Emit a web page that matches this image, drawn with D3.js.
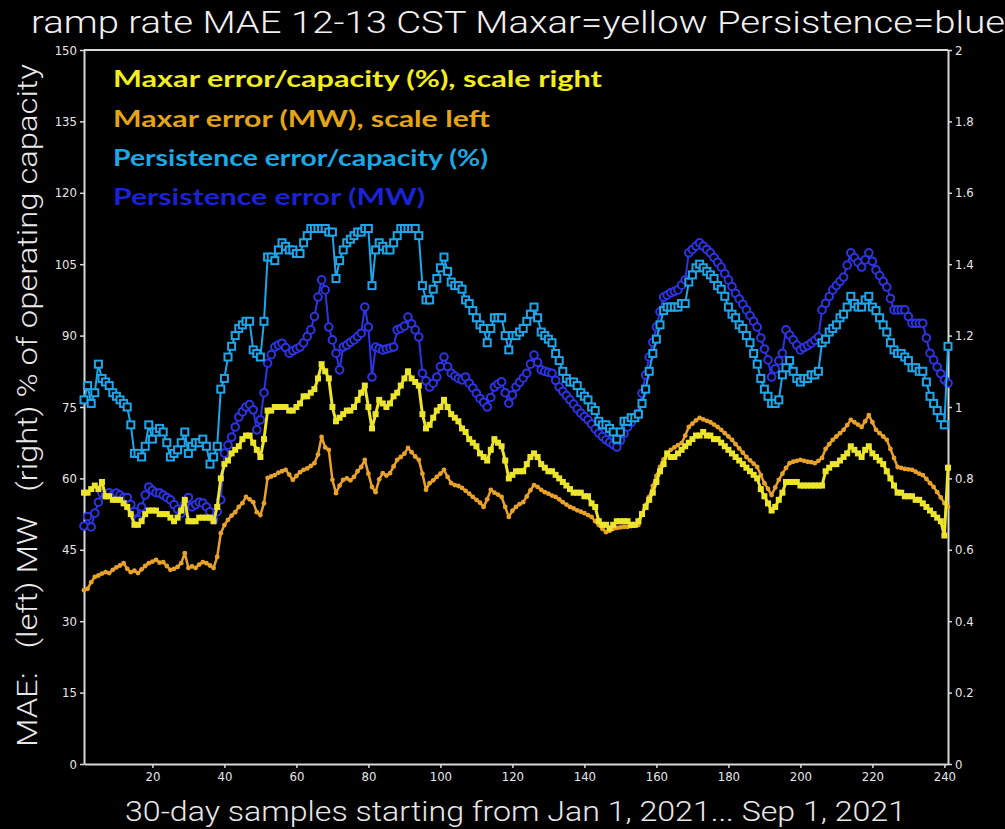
<!DOCTYPE html>
<html><head><meta charset="utf-8">
<script src="https://cdn.jsdelivr.net/npm/d3@7"></script>
<style>html,body{margin:0;padding:0;background:#000;}svg{display:block;}</style>
</head><body>
<svg id="chart" width="1005" height="829"></svg>
<script>
const titleText = "ramp rate MAE 12-13 CST Maxar=yellow Persistence=blue";
const yLabelText = "MAE:   (left) MW   (right) % of operating capacity";
const xLabelText = "30-day samples starting from Jan 1, 2021... Sep 1, 2021";
const legendLabels = ["Maxar error/capacity (%), scale right","Maxar error (MW), scale left","Persistence error/capacity (%)","Persistence error (MW)"];
const xTicks = [20,40,60,80,100,120,140,160,180,200,220,240];
const leftTicks = [0,15,30,45,60,75,90,105,120,135,150];
const rightTicks = [0,0.2,0.4,0.6,0.8,1,1.2,1.4,1.6,1.8,2];

const maxarMW = [
36.5,36.8,38.2,39.3,39.6,40.0,40.3,40.1,40.8,41.3,
41.7,42.2,41.0,40.3,40.6,40.1,40.9,41.6,42.2,42.5,
42.9,42.3,42.4,41.6,40.8,41.0,41.4,42.2,44.3,41.2,
41.5,41.2,41.9,42.4,42.2,41.7,41.2,43.5,48.5,50.2,
51.3,52.2,52.9,54.0,54.8,56.1,55.6,55.0,52.9,52.3,
54.8,60.1,60.4,60.7,61.2,61.5,61.8,60.8,59.7,60.5,
61.3,61.8,62.1,62.6,63.2,65.0,68.7,66.5,66.0,59.7,
56.9,58.5,59.7,60.0,59.6,60.3,61.5,62.4,63.9,61.0,
58.2,57.1,59.8,61.1,60.6,61.1,62.5,63.9,64.5,65.2,
66.4,65.5,64.6,63.9,61.0,57.6,59.0,59.6,60.3,61.0,
61.8,60.3,59.0,58.6,58.4,58.0,57.4,56.8,56.1,55.5,
54.9,54.0,55.6,57.6,57.0,56.6,56.1,54.0,51.9,53.2,
54.0,54.6,55.0,56.2,57.5,58.6,58.2,57.6,57.1,56.8,
56.4,56.1,55.6,55.0,54.5,54.0,53.7,53.3,53.0,52.7,
52.3,51.9,51.0,50.2,49.4,48.7,49.0,49.4,49.6,49.7,
49.8,49.8,50.0,50.1,50.2,52.7,54.4,56.1,58.4,60.5,
62.4,64.0,65.3,66.0,66.5,67.0,67.4,69.0,70.8,71.5,
72.2,72.7,72.4,72.1,71.8,71.3,70.8,70.2,69.5,68.8,
68.1,67.2,66.3,65.4,64.5,63.8,63.1,62.4,60.7,59.0,
57.8,56.5,58.1,59.7,61.0,62.2,63.2,63.5,63.7,63.9,
63.7,63.5,63.4,63.2,63.7,64.3,66.2,67.2,68.1,68.8,
69.5,70.2,71.2,72.3,71.8,71.3,70.8,72.0,73.3,71.8,
70.2,69.5,68.8,68.1,66.2,64.3,62.4,62.2,62.0,61.9,
61.8,61.4,61.0,60.7,59.9,59.0,58.2,57.1,56.0,54.8,54.0];

const maxarPct = [
0.76,0.76,0.77,0.78,0.77,0.79,0.75,0.75,0.74,0.74,
0.74,0.73,0.72,0.70,0.67,0.67,0.68,0.70,0.71,0.71,
0.71,0.70,0.70,0.70,0.69,0.68,0.69,0.71,0.74,0.68,
0.68,0.68,0.69,0.69,0.69,0.69,0.68,0.72,0.80,0.84,
0.85,0.87,0.88,0.89,0.91,0.92,0.92,0.90,0.88,0.86,
0.91,0.99,0.99,1.00,1.00,1.00,1.00,0.99,0.99,1.00,
1.01,1.03,1.03,1.04,1.05,1.08,1.12,1.10,1.08,1.00,
0.96,0.97,0.98,0.99,0.99,1.00,1.02,1.04,1.06,1.00,
0.94,0.98,1.02,1.01,1.00,1.01,1.03,1.04,1.06,1.08,
1.10,1.08,1.07,1.06,0.98,0.94,0.95,0.97,0.99,1.00,
1.02,1.00,0.98,0.97,0.96,0.94,0.93,0.91,0.90,0.89,
0.87,0.86,0.85,0.88,0.91,0.90,0.89,0.85,0.80,0.81,
0.82,0.82,0.82,0.84,0.86,0.87,0.86,0.84,0.83,0.82,
0.82,0.81,0.80,0.79,0.78,0.77,0.76,0.76,0.76,0.75,
0.75,0.73,0.72,0.68,0.67,0.67,0.66,0.67,0.68,0.68,
0.68,0.68,0.67,0.67,0.68,0.70,0.72,0.74,0.76,0.79,
0.82,0.84,0.87,0.86,0.86,0.87,0.88,0.89,0.90,0.91,
0.92,0.92,0.93,0.92,0.92,0.91,0.91,0.90,0.89,0.88,
0.87,0.86,0.85,0.84,0.83,0.82,0.81,0.80,0.77,0.75,
0.73,0.71,0.72,0.74,0.76,0.79,0.79,0.79,0.79,0.78,
0.78,0.78,0.78,0.78,0.78,0.78,0.82,0.83,0.84,0.84,
0.85,0.86,0.87,0.89,0.88,0.87,0.86,0.88,0.89,0.87,
0.86,0.85,0.84,0.82,0.80,0.78,0.76,0.76,0.75,0.75,
0.75,0.74,0.74,0.73,0.72,0.71,0.70,0.69,0.68,0.64,0.83];

const persistPct = [
1.02,1.06,1.01,1.04,1.12,1.08,1.07,1.06,1.04,1.03,
1.02,1.01,1.00,0.95,0.87,0.87,0.86,0.89,0.95,0.91,
0.93,0.94,0.93,0.90,0.86,0.87,0.88,0.90,0.93,0.87,
0.89,0.90,0.90,0.91,0.89,0.84,0.86,0.89,1.05,1.08,
1.14,1.17,1.20,1.22,1.23,1.24,1.24,1.16,1.15,1.14,
1.24,1.42,1.42,1.41,1.44,1.46,1.45,1.44,1.44,1.43,
1.43,1.46,1.48,1.50,1.50,1.50,1.50,1.50,1.49,1.49,
1.36,1.41,1.44,1.46,1.47,1.48,1.49,1.49,1.50,1.50,
1.34,1.44,1.46,1.45,1.44,1.44,1.46,1.48,1.50,1.50,
1.50,1.50,1.50,1.48,1.34,1.30,1.30,1.33,1.36,1.39,
1.42,1.38,1.35,1.34,1.34,1.33,1.30,1.29,1.27,1.25,
1.23,1.22,1.18,1.22,1.25,1.25,1.25,1.20,1.16,1.20,
1.20,1.21,1.22,1.24,1.26,1.28,1.25,1.21,1.20,1.19,
1.18,1.15,1.13,1.10,1.08,1.07,1.07,1.06,1.04,1.03,
1.02,1.00,0.99,0.96,0.95,0.95,0.94,0.93,0.91,0.93,
0.96,0.96,0.97,0.97,0.98,1.01,1.05,1.10,1.15,1.19,
1.23,1.27,1.28,1.28,1.28,1.28,1.29,1.29,1.35,1.37,
1.39,1.40,1.39,1.38,1.37,1.36,1.34,1.33,1.31,1.28,
1.26,1.25,1.23,1.22,1.20,1.18,1.15,1.12,1.08,1.05,
1.03,1.01,1.01,1.02,1.09,1.11,1.13,1.10,1.08,1.07,
1.08,1.08,1.09,1.09,1.10,1.18,1.19,1.21,1.22,1.23,
1.25,1.26,1.28,1.31,1.29,1.28,1.28,1.30,1.31,1.28,
1.27,1.25,1.23,1.21,1.18,1.16,1.15,1.15,1.14,1.13,
1.11,1.11,1.10,1.10,1.07,1.03,1.01,0.99,0.97,0.95,1.17];

const persistMW = [
50.0,52.0,49.8,52.7,55.0,56.9,56.5,57.0,56.5,56.9,
56.5,56.0,56.0,54.5,53.0,51.3,54.0,56.5,58.2,57.5,
57.0,56.9,56.5,56.0,55.5,54.5,53.5,52.7,54.5,56.0,
54.0,54.5,55.0,54.8,54.0,53.0,51.3,53.0,55.5,65.3,
67.0,68.7,70.8,72.9,74.0,75.0,75.5,74.4,70.2,72.3,
78.0,84.2,86.0,87.6,88.0,88.4,87.5,86.3,86.8,87.2,
87.6,88.5,89.8,91.2,94.0,98.1,101.7,99.6,91.8,89.1,
86.3,82.8,87.6,88.0,88.6,89.1,89.8,90.5,96.0,91.8,
81.3,87.6,87.3,87.0,87.2,87.4,87.6,91.2,91.5,92.0,
93.9,92.5,91.2,89.7,82.1,80.5,79.2,80.0,81.3,83.5,
85.5,83.5,82.1,81.5,81.0,80.7,81.3,80.0,79.0,77.9,
76.8,76.0,75.0,77.0,79.2,79.8,80.3,78.0,75.8,77.5,
79.2,80.2,81.1,82.1,84.0,85.9,84.4,82.8,82.5,82.3,
82.1,80.6,79.2,78.3,77.4,76.5,75.6,74.6,73.7,73.0,
72.3,71.4,70.4,69.5,68.8,68.1,67.6,67.1,66.6,68.0,
69.4,70.8,71.8,72.8,73.7,77.9,81.7,85.5,88.6,91.8,
95.0,98.1,98.5,99.0,99.3,99.6,100.6,101.7,107.4,108.1,
108.8,109.5,108.8,108.1,107.4,106.4,105.4,104.4,103.0,101.7,
100.3,98.9,97.7,96.6,95.4,94.2,93.0,91.8,89.5,87.2,
84.9,81.3,83.0,84.7,86.3,91.2,90.1,89.1,88.0,87.0,
87.5,87.9,88.4,89.0,89.7,95.4,96.8,98.2,99.6,100.5,
101.4,102.3,104.8,107.4,106.4,105.4,104.4,105.9,107.4,105.6,
103.8,102.6,101.4,100.2,97.8,95.4,95.4,95.4,95.4,94.0,
92.6,92.6,92.6,92.6,89.5,86.3,84.9,83.4,82.0,80.7,80.0];

const colors = {yellow:"#ece52c", orange:"#e8a22a", lightblue:"#1ea6ea", blue:"#2d34e6"};
const legendColors = ["#f2ee1c","#e3a516","#1ba9e6","#1a22d6"];

const svg = d3.select("#chart");
svg.append("rect").attr("width",1005).attr("height",829).attr("fill","#000");

const L = 84, R = 948, T = 50, B = 764;
const x = d3.scaleLinear().domain([1,241]).range([L,R]);
const yL = d3.scaleLinear().domain([0,150]).range([B,T]);
const yR = d3.scaleLinear().domain([0,2]).range([B,T]);
const tickFont = "'DejaVu Sans Condensed','Liberation Sans Narrow',Arial,sans-serif";
const labelFont = "Roboto,'DejaVu Sans',sans-serif";
const axisColor = "#d8d8d8";

function styleAxis(g){
  g.selectAll("path.domain").attr("stroke",axisColor).attr("stroke-width",2);
  g.selectAll(".tick line").attr("stroke",axisColor).attr("stroke-width",1.5);
  g.selectAll(".tick text").attr("fill","#e6e6e6").style("font-family",tickFont).style("font-size","13px");
}
const gx = svg.append("g").attr("transform",`translate(0,${B})`)
  .call(d3.axisBottom(x).tickValues(xTicks).tickSize(4).tickSizeOuter(0).tickPadding(4));
styleAxis(gx);
const gl = svg.append("g").attr("transform",`translate(${L},0)`)
  .call(d3.axisLeft(yL).tickValues(leftTicks).tickSize(4).tickSizeOuter(0).tickPadding(3));
styleAxis(gl);
const gr = svg.append("g").attr("transform",`translate(${R},0)`)
  .call(d3.axisRight(yR).tickValues(rightTicks).tickFormat(d3.format("~g")).tickSize(4).tickSizeOuter(0).tickPadding(3));
styleAxis(gr);
svg.append("line").attr("x1",L).attr("x2",R).attr("y1",T).attr("y2",T).attr("stroke",axisColor).attr("stroke-width",2);

const idx = d3.range(1,242);
const plot = svg.append("g");

function drawSeries(vals, yScale, color, lw, marker){
  const pts = vals.map((v,i)=>[x(idx[i]), yScale(v)]);
  plot.append("path").attr("d", d3.line()(pts)).attr("fill","none").attr("stroke",color).attr("stroke-width",lw).attr("stroke-linejoin","round");
  const g = plot.append("g");
  if(marker==="openSquare"){
    g.selectAll("rect").data(pts).join("rect").attr("x",d=>d[0]-3.5).attr("y",d=>d[1]-3.5).attr("width",7).attr("height",7)
      .attr("fill","#000").attr("stroke",color).attr("stroke-width",2);
  } else if(marker==="openCircle"){
    g.selectAll("circle").data(pts).join("circle").attr("cx",d=>d[0]).attr("cy",d=>d[1]).attr("r",3.8)
      .attr("fill","#000").attr("stroke",color).attr("stroke-width",2);
  } else if(marker==="fillSquare"){
    g.selectAll("rect").data(pts).join("rect").attr("x",d=>d[0]-3).attr("y",d=>d[1]-3).attr("width",6).attr("height",6).attr("fill",color);
  } else {
    g.selectAll("circle").data(pts).join("circle").attr("cx",d=>d[0]).attr("cy",d=>d[1]).attr("r",2.4).attr("fill",color);
  }
}
drawSeries(persistMW, yL, colors.blue, 2, "openCircle");
drawSeries(persistPct, yR, colors.lightblue, 2, "openSquare");
drawSeries(maxarMW, yL, colors.orange, 2.5, "dot");
drawSeries(maxarPct, yR, colors.yellow, 3, "fillSquare");

// legend
const legY = [87,127,166,205];
const legW = [489,377,375,312];
legendLabels.forEach((t,i)=>{
  svg.append("text").attr("x",113).attr("y",legY[i]).text(t)
    .attr("fill",legendColors[i]).style("font-family","Lato,'Open Sans',sans-serif").style("font-weight","bold").style("font-size","23px")
    .attr("textLength",legW[i]).attr("lengthAdjust","spacingAndGlyphs");
});

// title
svg.append("text").attr("x",31).attr("y",33).text(titleText).attr("fill","#f0f0f0")
  .style("font-family",labelFont).style("font-weight","300").style("font-size","31px").attr("textLength",974).attr("lengthAdjust","spacingAndGlyphs");
// x label
svg.append("text").attr("x",125).attr("y",821).text(xLabelText).attr("fill","#e8e8e8")
  .style("font-family",labelFont).style("font-weight","300").style("font-size","28px").attr("textLength",781).attr("lengthAdjust","spacingAndGlyphs");
// y label
svg.append("text").attr("transform","translate(37,747) rotate(-90)").attr("x",0).attr("y",0).text(yLabelText).attr("fill","#e8e8e8")
  .style("white-space","pre").attr("xml:space","preserve")
  .style("font-family",labelFont).style("font-weight","300").style("font-size","27px").attr("textLength",683).attr("lengthAdjust","spacingAndGlyphs");
</script>
</body></html>
